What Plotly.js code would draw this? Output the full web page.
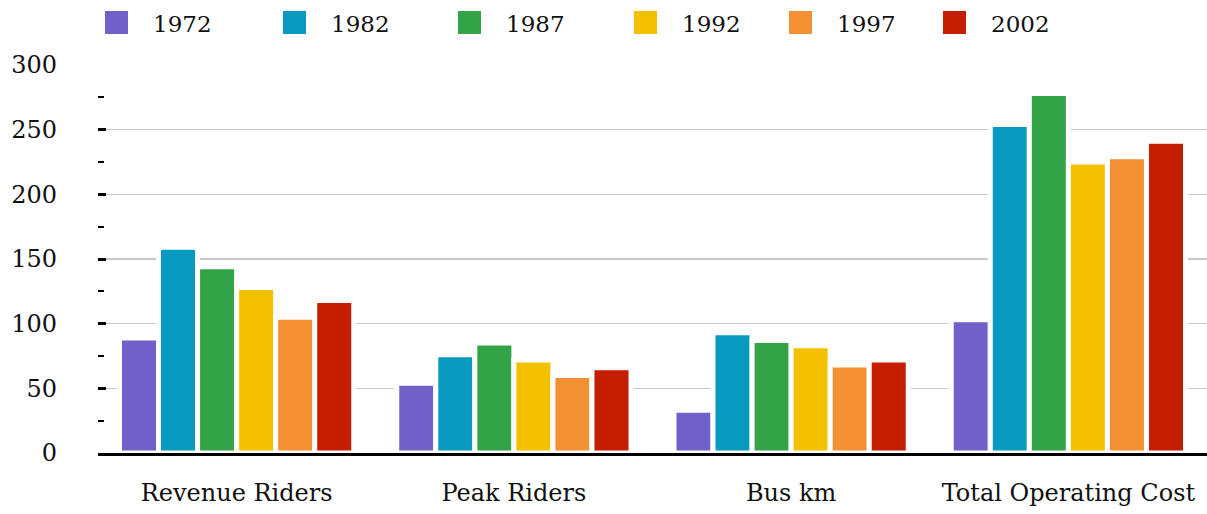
<!DOCTYPE html>
<html>
<head>
<meta charset="utf-8">
<script src="https://cdn.plot.ly/plotly-3.0.1.min.js"></script>
<style>
  html, body { margin: 0; padding: 0; background: #ffffff; }
  #chart { width: 1207px; height: 514px; }
</style>
</head>
<body>
<div id="chart"></div>
<script>
// Transit indicators by year (index values)
const categories = ["Revenue Riders", "Peak Riders", "Bus km", "Total Operating Cost"];
const years = ["1972", "1982", "1987", "1992", "1997", "2002"];
const v1972 = [89, 54, 33, 103];
const v1982 = [159, 76, 93, 254];
const v1987 = [144, 85, 87, 278];
const v1992 = [128, 72, 83, 225];
const v1997 = [105, 60, 68, 229];
const v2002 = [118, 66, 72, 241];
const series = [v1972, v1982, v1987, v1992, v1997, v2002];
const colors = ["#7060C8", "#0899C0", "#32A346", "#F2C200", "#F29033", "#C41D00"];

const W = 1207, H = 514;
const M = { l: 98, r: 0, t: 65, b: 61 };
const FONT = "DejaVu Serif";

const traces = series.map((vals, i) => ({
  type: "bar",
  name: years[i],
  x: categories,
  y: vals,
  marker: { color: colors[i], line: { color: "#ffffff", width: 5 } },
  hoverinfo: "x+y+name"
}));

// Legend row drawn as swatches and labels across the top
const legendLeft = [105, 283, 458, 634, 789, 943];
const px2paperX = px => (px - M.l) / (W - M.l - M.r);
const px2paperY = py => (H - M.b - py) / (H - M.t - M.b);
const shapes = [];
const annotations = [];
years.forEach((yr, i) => {
  const x0 = legendLeft[i];
  shapes.push({
    type: "rect", xref: "paper", yref: "paper",
    x0: px2paperX(x0), x1: px2paperX(x0 + 23),
    y0: px2paperY(34), y1: px2paperY(11),
    fillcolor: colors[i], line: { width: 0 }
  });
  annotations.push({
    xref: "paper", yref: "paper",
    x: px2paperX(x0 + 46), y: px2paperY(24),
    xanchor: "left", yanchor: "middle",
    text: yr, showarrow: false,
    font: { family: FONT, size: 23, color: "#111111" }
  });
});

const layout = {
  width: W, height: H,
  margin: M,
  paper_bgcolor: "#ffffff",
  plot_bgcolor: "#ffffff",
  showlegend: false,
  barmode: "group",
  bargap: 0.155,
  bargroupgap: 0,
  font: { family: FONT, size: 24, color: "#111111" },
  xaxis: {
    type: "category",
    showgrid: false,
    zeroline: false,
    showline: true,
    linecolor: "#000000",
    linewidth: 3,
    ticks: "",
    tickfont: { family: FONT, size: 24, color: "#111111" },
    ticklabelstandoff: 16
  },
  yaxis: {
    range: [0, 300],
    tickvals: [0, 50, 100, 150, 200, 250, 300],
    showgrid: true,
    gridcolor: "#c8c8c8",
    gridwidth: 1.5,
    zeroline: false,
    showline: false,
    ticks: "inside",
    ticklen: 8,
    tickwidth: 3,
    tickcolor: "#000000",
    ticklabelstandoff: 40,
    tickfont: { family: FONT, size: 24, color: "#111111" },
    minor: { dtick: 25, ticks: "inside", ticklen: 6, tickwidth: 2, tickcolor: "#000000", showgrid: false }
  },
  shapes: shapes,
  annotations: annotations
};

Plotly.newPlot("chart", traces, layout, { displayModeBar: false, staticPlot: true });
</script>
</body>
</html>
